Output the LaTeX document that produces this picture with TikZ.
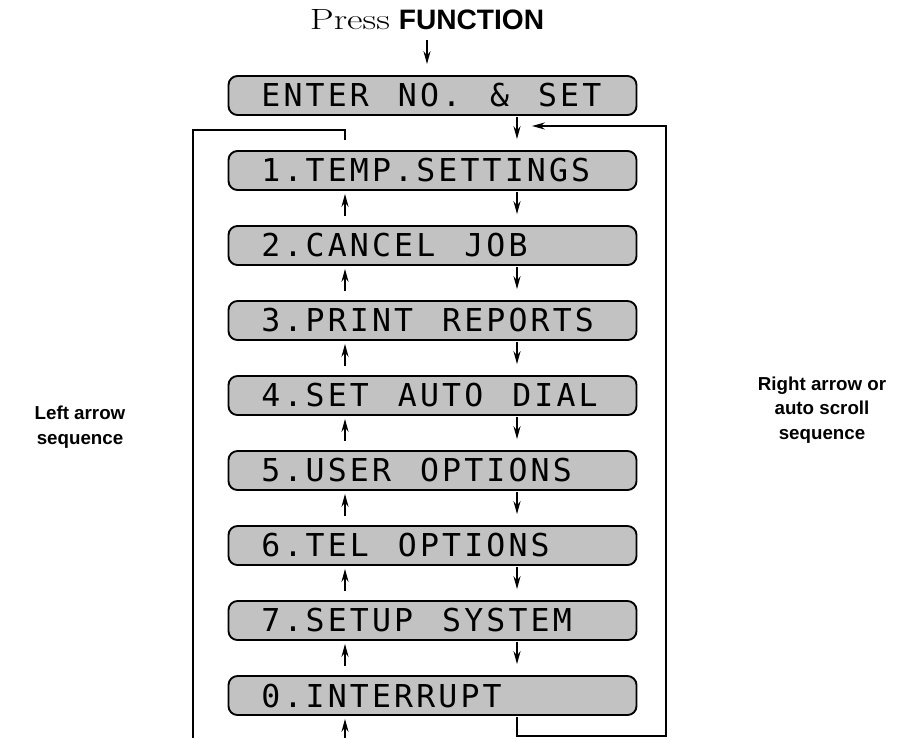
\documentclass[tikz,border=0pt]{standalone}
\usepackage{fontspec}
\usepackage{graphicx}
\setsansfont{Liberation Sans}
\newfontfamily\lcdfont[LetterSpace=10]{DejaVu Sans Mono}
\protected\def\lcdtype{\lcdfont\fontsize{26.9pt}{30pt}\selectfont\spaceskip=0.92em\relax}
\usetikzlibrary{arrows.meta,positioning}

\tikzset{
  lcd/.style={draw, line width=1.6pt, fill=black!24, rounded corners=0.27cm,
    text width=10.26cm, inner xsep=0.99cm, inner ysep=0pt, minimum height=1.17cm,
    align=flush left, font=\lcdtype},
  sidelabel/.style={font=\sffamily\bfseries\fontsize{16pt}{21pt}\selectfont, align=center},
  downarr/.style={->, shorten <=0.03cm, shorten >=0.33cm},
  uparr/.style={->, shorten <=0.27cm, shorten >=0.09cm}
}

\begin{document}
\begin{tikzpicture}[>={Stealth[length=11pt,width=6pt]}, line width=1.2pt,
                    x=0.03cm, y=-0.03cm, node distance=2.25cm]
            \useasboundingbox (0,0) rectangle (898,738);
            \clip (0,0) rectangle (898,738);
            \node (press) [anchor=base] at (427,30)
                  {\fontsize{25pt}{28pt}\selectfont\scalebox{1.3}[1]{Press} {\sffamily\bfseries\fontsize{24pt}{28pt}\selectfont FUNCTION}};
            \node[lcd] (enter) at (432.5,95.5) {ENTER NO. \& SET};
            \node[lcd] (m1) [below of=enter] {1.TEMP.SETTINGS};
            \node[lcd] (m2) [below of=m1]    {2.CANCEL JOB};
            \node[lcd] (m3) [below of=m2]    {3.PRINT REPORTS};
            \node[lcd] (m4) [below of=m3]    {4.SET AUTO DIAL};
            \node[lcd] (m5) [below of=m4]    {5.USER OPTIONS};
            \node[lcd] (m6) [below of=m5]    {6.TEL OPTIONS};
            \node[lcd] (m7) [below of=m6]    {7.SETUP SYSTEM};
            \node[lcd] (m0) [below of=m7]    {0.INTERRUPT};
            \node[sidelabel] (leftlbl)  at (80,427)  {Left arrow\\sequence};
            \node[sidelabel] (rightlbl) at (822,410) {Right arrow or\\auto scroll\\sequence};
            \coordinate (lcol) at (345,0);
            \coordinate (rcol) at (517,0);
            \coordinate (lt) at (193,130);
            \coordinate (lb) at (193,760);
            \coordinate (rb) at (666,736);
            \coordinate (rt) at (666,126);
            \coordinate (rtip) at (532,126);
            \draw[->, shorten <=0.15cm, shorten >=0.33cm] (press) -- (press |- enter.north);
            \draw[downarr] (enter.south -| rcol) -- (m1.north -| rcol);
            \foreach \a/\b in {m1/m2,m2/m3,m3/m4,m4/m5,m5/m6,m6/m7,m7/m0} {
              \draw[downarr] (\a.south -| rcol) -- (\b.north -| rcol);
              \draw[uparr]   (\b.north -| lcol) -- (\a.south -| lcol);
            }
            \draw[->, shorten <=0.3cm, shorten >=0.09cm] (m1.north -| lcol) |- (lt) -- (lb) -| (m0.south -| lcol);
            \draw[->, shorten <=0.03cm] (m0.south -| rcol) |- (rb) -- (rt) -- (rtip);
\end{tikzpicture}
\end{document}
